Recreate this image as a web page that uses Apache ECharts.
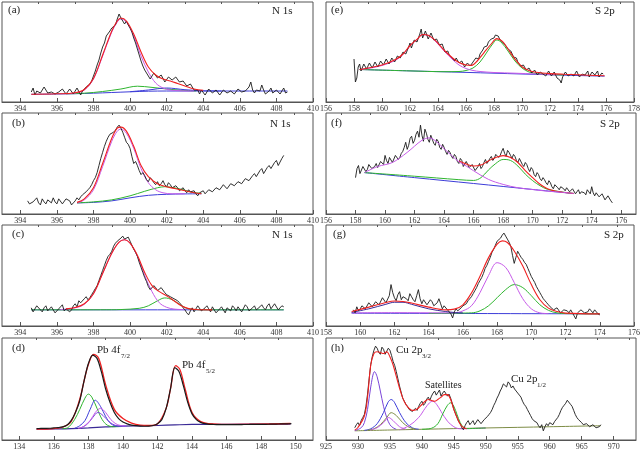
<!DOCTYPE html>
<html><head><meta charset="utf-8">
<script src="https://cdn.jsdelivr.net/npm/echarts@6/dist/echarts.min.js"></script>
<style>html,body{margin:0;padding:0;background:#fff}#c{width:643px;height:451px}</style>
</head><body><div id="c"></div>
<script>
// ---------- tick labels ----------
const nMajor = [394,396,398,400,402,404,406,408,410];
const nMinor = [395,397,399,401,403,405,407,409];
const dMajor = [134,136,138,140,142,144,146,148,150];
const dMinor = [135,137,139,141,143,145,147,149];
const eMajor = [156,158,160,162,164,166,168,170,172,174,176,178];
const eMinor = [157,159,161,163,165,167,169,171,173,175,177];
const fMajor = [156,158,160,162,164,166,168,170,172,174,176];
const fMinor = [157,159,161,163,165,167,169,171,173,175];
const gMajor = [158,160,162,164,166,168,170,172,174,176];
const gMinor = [159,161,163,165,167,169,171,173,175];
const hMajor = [925,930,935,940,945,950,955,960,965,970];
const hMinor = [927.5,932.5,937.5,942.5,947.5,952.5,957.5,962.5,967.5,972.5];

// ---------- (a) N 1s ----------
const aRawStart = 394.6, aRawStep = 0.1;
const aRaw = [10,14,7,11,13,9,8,15,12,9,7,10,11,8,6,10,9,13,12,8,7,13,11,8,9,14,12,7,11,13,15,14,18,21,26,31,37,42,49,55,59,66,68,71,74,72,77,83,88,84,82,78,81,77,74,70,64,59,53,47,41,36,32,29,27,23,24,29,27,24,22,27,25,20,22,25,26,22,21,25,24,20,18,21,19,16,14,18,15,12,10,12,8,12,11,7,9,13,12,9,8,12,11,7,9,12,13,9,8,11,12,8,10,13,14,10,8,11,12,15,20,12,9,12,13,11,17,12,8,10,11,14,9,8,12,10,8,11,14,9,10];
const aBase = [[394.6,7.7],[396,8],[397,8.3],[398,8.8],[399,9.5],[400,10.2],[401,10.8],[402,11],[404,11],[408.6,11]];
const aGreen = [[396.5,8.2],[397.5,8.8],[398.5,10.5],[399.5,13],[400.4,15.8],[401.2,14.6],[402,13],[402.8,11.8],[403.6,11]];
const aBlue = [[400,10.3],[401,12],[402,14],[403,12.3],[404,11.2],[405,11]];
const aMag = [[396.5,8.2],[397,9],[397.5,12],[398,23],[398.5,46],[399,70],[399.3,80],[399.5,83],[399.8,80],[400.2,66],[400.6,46],[401,30],[401.4,19],[401.8,14],[402.2,12],[402.8,11.2],[403.5,11]];
const aRed = [[394.6,7.8],[396,8.2],[397,9.3],[397.5,12.5],[398,23.5],[398.5,47],[399,71],[399.3,81],[399.5,84],[399.8,81],[400.2,68],[400.6,50],[401,35],[401.4,27],[401.8,23],[402.2,21],[402.6,18.5],[403,16],[403.5,13],[404,11.8]];

// ---------- (b) N 1s ----------
const bRawStart = 394.4, bRawStep = 0.1;
const bRaw = [13,10,9,12,14,16,11,9,15,12,10,14,13,11,16,12,10,15,14,10,11,15,16,13,9,11,13,16,14,17,19,20,22,24,26,29,33,36,41,48,55,61,67,72,76,79,80,81,83,86,88,85,81,76,71,69,65,57,50,52,48,43,39,41,38,34,32,36,34,31,29,32,28,30,33,29,27,31,29,26,25,28,26,23,24,26,23,21,24,22,21,23,20,18,21,22,23,20,21,24,25,22,23,26,27,24,25,29,28,25,26,30,31,28,29,32,33,30,31,35,36,33,34,38,40,37,38,43,45,40,41,46,48,45,44,51,53,48,49,55,58];
const bBase = [[397.1,11],[398,11.5],[399,13],[400,16],[401,18.5],[402,19.5],[403,19.9],[403.9,20]];
const bGreen = [[397.1,11],[398,12],[399,14],[400,18],[400.8,22.5],[401.5,26],[401.9,27],[402.4,26],[402.9,24],[403.4,21.5],[403.9,20.5]];
const bMag = [[397.1,11],[397.5,14],[398,24],[398.5,47],[399,72],[399.3,82],[399.5,84],[399.8,80],[400.2,65],[400.6,45],[401,31],[401.4,24],[401.8,21],[402.3,20],[403,20]];
const bRed = [[397.1,11.5],[397.5,15],[398,26],[398.5,50],[399,75],[399.3,85],[399.5,86],[399.8,82],[400.2,67],[400.6,48],[401,37],[401.5,30],[402,27],[402.5,25],[403,23],[403.5,21],[403.9,20]];

// ---------- (c) N 1s ----------
const cRawStart = 394.6, cRawStep = 0.1;
const cRaw = [18,14,15,20,19,16,14,18,20,15,16,19,18,13,14,17,19,21,15,17,18,14,16,20,22,19,25,23,24,27,29,26,28,31,34,37,40,45,50,55,60,65,69,71,74,79,82,84,85,87,89,86,85,88,84,80,76,73,69,63,58,53,48,44,39,36,37,40,38,35,34,38,37,33,31,30,29,28,27,26,25,23,21,18,16,13,11,15,18,14,15,20,19,15,16,18,20,17,14,19,18,13,15,17,19,16,13,18,17,15,20,18,15,19,18,14,14,21,19,15,16,18,20,16,17,19,21,18,16,20,22,17,18,22,21,16,16,20,19];
const cBase = [[394.6,16],[408.4,16]];
const cGreen = [[394.6,16],[399,16.1],[399.5,16.3],[400.5,17.5],[401,20],[401.5,25],[401.9,27.8],[402.3,26],[402.7,21.5],[403.1,17.5],[403.5,16.3],[404,16],[408.4,16]];
const cMag = [[396.2,16.3],[397,18],[397.5,21.5],[398,32],[398.5,52],[399,72],[399.4,83],[399.7,85.4],[400,82],[400.4,69],[400.8,50],[401.2,34],[401.6,23],[402,18.5],[402.4,16.8],[403,16.2]];
const cRed = [[396.5,17],[397,18.3],[397.5,22],[398,32],[398.5,52],[399,72],[399.4,83],[399.7,85.4],[400,82],[400.4,70],[400.8,53],[401.2,40],[401.6,34],[402,30],[402.4,25],[402.8,20],[403.2,17.2],[403.6,16.3],[404.5,16]];

// ---------- (d) Pb 4f ----------
const dRawStart = 135, dRawStep = 0.25;
const dRaw = [11.2,11.3,11.4,11.5,11.9,12.2,12.8,14.5,19,27,38.5,58,75,83.3,80,67,50,37,27,21,17.6,15.8,14.6,14,13.6,13.5,13.6,14.2,16,20,31,50,71,67,53,37,25.6,20,17.3,16,15.4,15.2,15.1,15,15,15,15.1,15.1,15.2,15.2,15.3,15.3,15.4,15.4,15.5,15.6,15.7,15.8,15.9,16];
const dBase = [[135,10.6],[136,10.8],[137,11.1],[138,11.8],[139,12.8],[140,13.6],[141,13.9],[142,14.2],[143,14.8],[144,15.3],[146,15.4],[149.7,15.6]];
const dGreen = [[136.5,11.1],[136.8,12],[137.2,20],[137.5,30],[137.8,41],[138,45],[138.2,42],[138.5,31],[138.8,20],[139.1,14.5],[139.5,13],[140,13.3]];
const dBlue = [[137.2,11.5],[137.5,14],[137.8,19],[138.1,30],[138.4,39],[138.7,33],[139,23],[139.3,16],[139.7,13.5],[140.2,13.5]];
const dMag = [[137.4,11.5],[137.7,13],[138.1,19],[138.4,27],[138.7,31],[139,27],[139.3,20],[139.7,15],[140.2,13.6]];
const dViolet = [[137.5,11.6],[137.9,15],[138.25,22],[138.55,27],[138.85,24],[139.2,18],[139.6,14.2],[140.1,13.5]];
const dRed = [[135,10.6],[136,11.2],[136.5,12.5],[137,18],[137.5,40],[137.75,58],[138,74],[138.3,84],[138.6,80],[139,54],[139.5,30],[140,21],[140.5,16.5],[141,14.5],[141.5,14.2],[142,16],[142.5,31],[142.75,50],[143.05,73],[143.3,69],[143.6,50],[144,27],[144.5,18],[145,16],[146,15.3],[149.7,16.2]];

// ---------- (e) S 2p ----------
const eRawStart = 158.0, eRawStep = 0.1;
const eRaw = [43,20,24,35,38,31,33,38,37,33,35,39,38,34,36,40,39,35,37,41,40,37,38,43,42,38,39,44,43,40,41,46,47,44,45,50,52,48,50,55,59,54,56,62,64,60,62,68,73,64,66,71,69,63,64,69,67,62,61,63,60,57,55,58,54,50,49,51,47,45,44,42,41,44,42,39,38,41,39,35,36,39,40,36,37,40,41,44,46,43,48,50,52,55,57,56,60,62,63,61,64,67,69,66,63,64,60,58,57,55,53,54,51,48,45,47,44,40,38,36,34,37,35,32,31,34,33,29,30,32,31,27,28,30,31,28,29,26,27,31,30,26,27,30,29,24,26,22,19,25,27,30,29,26,25,28,30,26,27,31,29,25,26,28,30,27,28,31,25,23,30,28,27,29,31,25,26,29,28];
const eBase = [[158.4,32.5],[162,31.1],[166,29.6],[170,28],[174,26.5],[175.9,25.8]];
const eGreen = [[158.4,32.5],[162,31.1],[164.5,30.3],[165.5,30.5],[166,31.5],[166.5,34],[167,40],[167.5,50],[167.9,58],[168.2,62],[168.5,60],[169,51],[169.5,41],[170,34],[170.5,30],[171,28.5],[172,27.5],[173,27]];
const eMag = [[158.4,32.5],[159,33.5],[160,36.5],[161,42],[161.5,47.5],[162,56],[162.5,62.5],[162.9,67.3],[163.3,66.5],[163.8,61],[164.5,50],[165,43],[165.5,37],[166,33.5],[166.5,31.5],[167,30.5],[168,29.5],[169.5,28.8],[171,28],[172.5,27.2]];
const eRed = [[158.4,32.5],[159,34],[160,37],[161,42.8],[161.5,48],[162,56.5],[162.5,62.7],[162.9,67.5],[163.3,66.8],[163.8,61.7],[164.5,51],[165,44.5],[165.5,39.4],[166,37],[166.4,36.6],[166.8,41],[167.3,49.7],[167.8,58],[168.2,63.4],[168.6,60.6],[169,53],[169.5,42.8],[170,35.3],[170.5,31.5],[171,29.8],[172,28.4],[173,27.7],[174,27.2],[175.9,26.2]];

// ---------- (f) S 2p ----------
const fRawStart = 158.0, fRawStep = 0.1;
const fRaw = [36,45,48,40,41,47,46,42,44,49,48,45,44,47,50,46,47,52,51,49,58,53,50,56,55,51,52,58,57,54,56,60,62,66,71,64,68,75,77,70,73,79,82,76,88,78,72,84,80,74,71,78,77,70,68,74,72,66,64,69,66,62,59,63,61,57,55,59,57,52,50,55,53,47,48,52,51,46,45,49,48,43,44,47,50,45,47,51,54,50,52,55,57,53,55,59,60,56,58,62,65,60,57,63,61,58,55,59,57,53,51,55,54,49,47,51,49,45,42,46,44,39,37,41,39,35,33,36,34,31,29,33,31,27,25,29,28,26,24,27,28,25,23,26,25,22,21,25,24,20,22,24,20,22,23,21,19,24,22,20,27,21,18,21,20,17,16,20,19,14,15,18,17,13,11];
const fBase = [[158.6,41],[162,36],[166,30.2],[170,24.3],[172.8,20.2]];
const fGreen = [[158.6,41],[162,37.4],[165,34],[166,33.2],[166.5,36],[167,43.5],[167.5,50],[168,54],[168.5,53],[169,47.5],[169.5,39.5],[170,33],[170.5,28],[171,24.5],[172,21.8],[172.8,20.3]];
const fMag = [[158.6,41],[159.5,47],[160.5,51],[161.5,61],[162.5,73],[163,75.4],[163.5,71.4],[164,64.6],[164.5,58],[165,51.8],[165.5,47.5],[166,42.8],[167,34.3],[168,29.3],[169,26],[170,24.2],[171,22.6],[172,21.5],[172.8,20.3]];
const fRed = [[165,52.5],[165.5,49.5],[166,47.5],[166.5,48.5],[167,52.5],[167.5,56],[168,57.8],[168.5,56],[169,51],[169.5,43],[170,36],[170.5,29.5],[171,25],[171.5,22.8],[172,21.6],[172.8,20.3]];

// ---------- (g) S 2p ----------
const gRawStart = 159.6, gRawStep = 0.1;
const gRaw = [16,13,19,15,17,20,21,17,18,23,22,19,20,24,25,21,22,28,27,23,24,30,41,33,28,25,31,34,26,29,30,27,25,32,29,26,24,30,36,27,22,26,25,21,21,26,24,20,19,23,27,22,17,20,20,16,15,12,8,14,17,15,14,18,20,19,22,25,27,29,32,35,38,42,45,48,52,57,60,64,68,73,76,80,84,83,87,90,92,89,86,83,79,70,62,68,74,71,68,66,63,61,57,53,49,46,43,39,36,33,30,27,25,23,21,19,18,16,15,18,17,13,14,16,17,15,13,16,15,10,7,13,12,16,15,13,12,14,17,15,13,16,15,12,11];
const gBase = [[159.5,12.7],[174,12]];
const gGreen = [[164,12.5],[166.5,13],[167,15],[167.5,20],[168,28],[168.5,36],[169,41],[169.5,38],[170,30],[170.5,21],[171,15.5],[171.5,13],[172,12.3],[174,12]];
const gMag = [[159.5,13],[162,13.2],[165,13],[165.5,13],[166,15],[166.5,20],[167,33],[167.5,50],[168,62.7],[168.5,58],[169,43],[169.5,27],[170,17],[170.5,13],[171,12.3]];
const gNavy = [[159.5,13.5],[160.5,17],[161.5,21.5],[162,23.5],[162.5,23.5],[163,21.5],[164,17],[165,14.3],[165.5,13.4],[166,13]];
const gRed = [[159.5,14.3],[160.5,18.7],[161.5,23.3],[162,24.7],[162.5,24.3],[163,22.7],[164,18.7],[165,16],[165.5,16.7],[166,21],[166.5,32.7],[167,49.3],[167.5,67.7],[168,81],[168.3,84.3],[168.6,82.7],[169,74.3],[169.5,59.3],[170,41],[170.5,26],[171,17.7],[171.5,14.3],[172,12.7],[174,12]];

// ---------- (h) Cu 2p ----------
const hRawStart = 929.5, hRawStep = 0.25;
const hRaw = [12,15,17,14,19,22,25,33,45,60,74,82,88,92,90,86,84,91,89,84,85,90,88,83,77,73,67,60,53,47,41,38,35,33,30,31,28,27,31,29,33,36,38,34,36,40,42,39,43,46,48,44,45,49,43,46,48,47,43,45,41,36,30,26,22,18,16,12,10,14,17,19,15,17,19,15,16,20,19,16,17,20,21,23,25,27,30,34,37,41,44,48,51,55,54,52,57,55,51,53,50,48,46,44,42,38,35,33,30,27,24,21,19,18,17,14,12,15,9,13,16,14,17,16,15,18,19,22,25,29,32,34,36,39,38,35,33,29,25,22,20,19,17,15,14,16,17,13,12,15,14,12,11,13,15];
const hBase = [[929.5,9],[935,9.8],[940,10.5],[950,11.8],[960,13],[968,14]];
const hViolet = [[929.5,9.2],[930.5,12],[931,17],[931.5,30],[932,52],[932.6,67],[933,62],[933.5,48],[934,33],[934.5,22],[935,15],[935.5,12],[936,10.5]];
const hBlue = [[931,9.5],[932,11],[933,16],[934,27],[934.7,37],[935.2,39.7],[935.7,37],[936.5,27],[937.5,17],[938.5,12],[939.5,10.6]];
const hOlive = [[931.5,9.6],[932.5,11],[933.5,15],[934.5,22],[935.2,26.8],[936,24],[937,17],[938,12.5],[939,10.6]];
const hMagSmall = [[932,9.8],[933,12],[934,17],[934.8,22],[935.5,19],[936.5,13],[937.5,10.8]];
const hMagSat = [[936.5,10],[938,14],[939.5,22],[940.5,31],[941.2,36.5],[941.7,38],[942.3,35],[943,28],[944,18.5],[945,13],[946,11],[950,11.8]];
const hGreenSat = [[940,10.5],[941.5,11.5],[942.5,16],[943.3,26],[944,34],[944.5,36.5],[945,33],[945.5,25],[946,17],[946.5,12.5],[947,11.2],[950,11.8]];
const hRed = [[929.5,9.7],[930,12.3],[931,23.5],[931.5,42],[932,73.5],[932.5,84.8],[933,86.5],[933.5,85.8],[934,84.8],[934.5,86.5],[935,81.6],[935.5,73.5],[936,62.3],[936.5,51],[937,41.3],[937.5,34.8],[938,31],[938.5,29],[939,29.4],[939.5,31.6],[940,34.8],[940.5,38],[941,39.7],[941.5,38.7],[942,38],[942.5,39.7],[943,42],[943.5,44.5],[944,44.5],[944.5,39.7],[945,30],[945.5,22],[946,15.5],[946.5,12.3],[947,11]];

// ---------- build ----------
const RAW='#1a1a1a', RED='#f02020', MAG='#c65ae8', GREEN='#2fb52f', BLUE='#3c3cd8', NAVY='#3a2a96', VIOLET='#7a44d8', OLIVE='#7d8c45';
function onGrid(start, step, ys){ return ys.map((y,i)=>[+(start+i*step).toFixed(3), y]); }

const SERIF = '"Liberation Serif","DejaVu Serif",serif';
const L = {left:2, width:311}, R = {left:326, width:310};
const rows = [{top:2,height:100},{top:113,height:101},{top:225,height:101},{top:338,height:103}];

const panels = [
  {pos:[L,rows[0]], min:393, max:410, major:nMajor, minor:nMinor, layers:[
    [aBase,BLUE,1],[aGreen,GREEN,1],[aBlue,BLUE,1],[aMag,MAG,1],[onGrid(aRawStart,aRawStep,aRaw),RAW,0.9,false],[aRed,RED,1.1]]},
  {pos:[L,rows[1]], min:393, max:410, major:nMajor, minor:nMinor, layers:[
    [bBase,BLUE,1],[bGreen,GREEN,1],[bMag,MAG,1],[onGrid(bRawStart,bRawStep,bRaw),RAW,0.9,false],[bRed,RED,1.1]]},
  {pos:[L,rows[2]], min:393, max:410, major:nMajor, minor:nMinor, layers:[
    [cBase,BLUE,1],[cGreen,GREEN,1],[cMag,MAG,1],[onGrid(cRawStart,cRawStep,cRaw),RAW,0.9,false],[cRed,RED,1.1]]},
  {pos:[L,rows[3]], min:133, max:151, major:dMajor, minor:dMinor, layers:[
    [dBase,NAVY,1.2],[dGreen,GREEN,1],[dBlue,BLUE,1],[dViolet,VIOLET,1],[dMag,MAG,1],[dRed,RED,1.3],[onGrid(dRawStart,dRawStep,dRaw),RAW,1.2,true]]},
  {pos:[R,rows[0]], min:156, max:178, major:eMajor, minor:eMinor, layers:[
    [eBase,BLUE,1],[eGreen,GREEN,1],[eMag,MAG,1],[onGrid(eRawStart,eRawStep,eRaw),RAW,0.9,false],[eRed,RED,1.1]]},
  {pos:[R,rows[1]], min:156, max:177, major:fMajor, minor:fMinor, layers:[
    [fBase,BLUE,1],[fGreen,GREEN,1],[onGrid(fRawStart,fRawStep,fRaw),RAW,0.9,false],[fRed,RED,1.1],[fMag,MAG,1]]},
  {pos:[R,rows[2]], min:158, max:176, major:gMajor, minor:gMinor, layers:[
    [gBase,BLUE,1],[gGreen,GREEN,1],[gMag,MAG,1],[gNavy,NAVY,1],[onGrid(gRawStart,gRawStep,gRaw),RAW,0.9,false],[gRed,RED,1.1]]},
  {pos:[R,rows[3]], min:925, max:973.5, major:hMajor, minor:hMinor, layers:[
    [hBase,OLIVE,1],[hViolet,VIOLET,1],[hBlue,BLUE,1],[hOlive,OLIVE,1],[hMagSmall,MAG,1],[hMagSat,MAG,1],[hGreenSat,GREEN,1],[onGrid(hRawStart,hRawStep,hRaw),RAW,0.9,false],[hRed,RED,1.1]]}
];

const grid=[], xAxis=[], yAxis=[], series=[];
panels.forEach((p,i)=>{
  grid.push({left:p.pos[0].left, width:p.pos[0].width, top:p.pos[1].top, height:p.pos[1].height,
    show:true, borderColor:'#555', borderWidth:1});
  xAxis.push({gridIndex:i, type:'value', min:p.min, max:p.max,
    axisLine:{show:true, lineStyle:{color:'#555', width:1}},
    axisTick:{show:true, inside:true, length:4, customValues:p.major, lineStyle:{color:'#555'}},
    axisLabel:{show:true, customValues:p.major, fontSize:8, fontFamily:SERIF, color:'#333', margin:3, showMinLabel:true, showMaxLabel:true},
    splitLine:{show:false}});
  xAxis.push({gridIndex:i, type:'value', min:p.min, max:p.max,
    axisLine:{show:false},
    axisTick:{show:true, inside:true, length:2, customValues:p.minor, lineStyle:{color:'#555'}},
    axisLabel:{show:false}, splitLine:{show:false}});
  yAxis.push({gridIndex:i, type:'value', min:0, max:100, show:false});
  p.layers.forEach(l=>{
    const smooth = (l[3]===undefined) ? 0.35 : (l[3] ? 0.3 : false);
    series.push({type:'line', xAxisIndex:2*i, yAxisIndex:i, data:l[0], showSymbol:false, symbol:'none',
      smooth:smooth, lineStyle:{color:l[1], width:l[2]}, silent:true});
  });
});

function txt(left, top, text, size){ return {type:'text', left:left, top:top, silent:true,
  style:{text:text, font: size+'px '+SERIF, fill:'#222'}}; }
const graphic = [
  txt(8,5,'(a)',11), txt(272,6,'N 1s',11),
  txt(12,118,'(b)',11), txt(270,119,'N 1s',11),
  txt(12,229,'(c)',11), txt(272,230,'N 1s',11),
  txt(12,343,'(d)',11),
  txt(97,345,'Pb 4f',11), txt(121,353,'7/2',7),
  txt(182,360,'Pb 4f',11), txt(206,368,'5/2',7),
  txt(331,5,'(e)',11), txt(595,6,'S 2p',11),
  txt(331,118,'(f)',11), txt(600,119,'S 2p',11),
  txt(333,229,'(g)',11), txt(604,230,'S 2p',11),
  txt(331,343,'(h)',11),
  txt(396,345,'Cu 2p',11), txt(422,353,'3/2',7),
  txt(425,380,'Satellites',10),
  txt(511,374,'Cu 2p',11), txt(537,382,'1/2',7)
];

const chart = echarts.init(document.getElementById('c'), null, {renderer:'canvas'});
chart.setOption({animation:false, grid, xAxis, yAxis, series, graphic});
</script></body></html>
